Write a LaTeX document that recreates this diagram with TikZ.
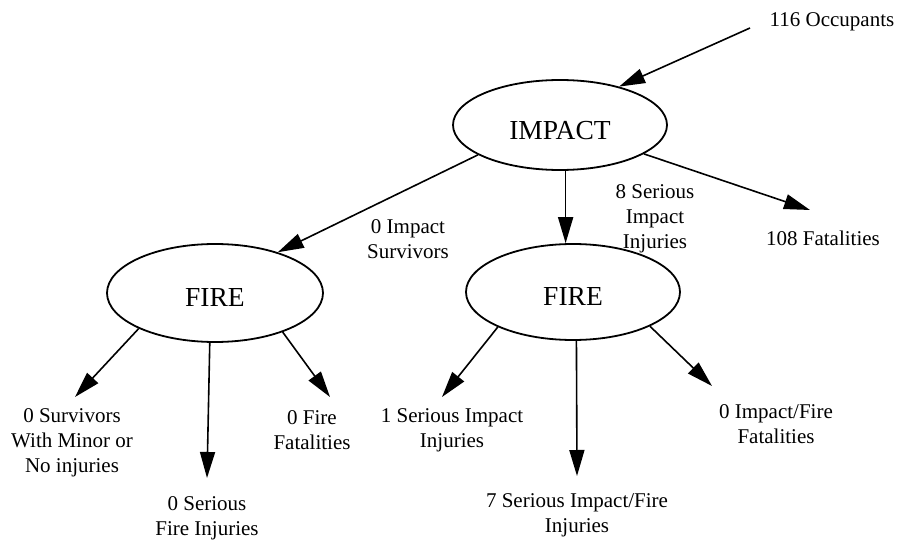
\documentclass[tikz,border=0pt]{standalone}
\usepackage{fontspec}
\setmainfont{Liberation Serif}
\usetikzlibrary{shapes.geometric,arrows.meta}
\newcommand{\lowertext}[2]{\raisebox{-#1}[\height][\depth]{#2}}
\begin{document}
\begin{tikzpicture}[x=1pt,y=-1pt,
  state/.style={ellipse,draw,line width=1.8pt,minimum width=214pt,minimum height=90pt,inner sep=0pt,font=\fontsize{27.5}{30}\selectfont},
  lbl/.style={align=center,inner sep=1pt,font=\fontsize{21}{25}\selectfont},
  arr/.style={line width=1.6pt,-{Triangle[length=26pt,width=15pt]}}]
\fill[white] (0,0) rectangle (904,548);
\useasboundingbox (0,0) rectangle (904,548);
% ellipses
\node[state] (impact) at (560,125) {\lowertext{6pt}{IMPACT}};
\node[state,minimum width=216pt,minimum height=98pt] (fireL) at (215,293) {\lowertext{4pt}{FIRE}};
\node[state,minimum width=214pt,minimum height=96pt] (fireR) at (573,292) {\lowertext{4pt}{FIRE}};
% labels
\node[lbl] (occ) at (832,22) {116 Occupants};
\node[lbl] (surv) at (408,239) {0 Impact\\Survivors};
\node[lbl] (ser8) at (655,219) {8 Serious\\Impact\\Injuries};
\node[lbl] (fat108) at (823,238) {108 Fatalities};
\node[lbl] (minor) at (72,443) {0 Survivors\\With Minor or\\No injuries};
\node[lbl] (firinj) at (207,518) {0 Serious\\Fire Injuries};
\node[lbl] (firfat) at (312,430) {0 Fire\\Fatalities};
\node[lbl] (ser1) at (452,430) {1 Serious Impact\\Injuries};
\node[lbl] (ser7) at (577,515) {7 Serious Impact/Fire\\Injuries};
\node[lbl] (iffat) at (776,424) {0 Impact/Fire\\Fatalities};
% free ends
\coordinate (occT) at (750,28);
\coordinate (t108) at (810,210);
\coordinate (tMinor) at (75,397);
\coordinate (tFirInj) at (207,478);
\coordinate (tFirFat) at (330,397);
\coordinate (tSer1) at (442,397);
\coordinate (tSer7) at (577,476);
\coordinate (tIfFat) at (712,386);
% connectors
\draw[arr] (occT) -- (impact.33.4);
\draw[arr] (impact.200.7) -- (fireL.33.5);
\draw[arr] (impact.-83) -- (impact.-83 |- fireR.99);
\draw[arr] (impact.-19.2) -- (t108);
\draw[arr] (fireL.205) -- (tMinor);
\draw[arr] (fireL.-96) -- (tFirInj);
\draw[arr] (fireL.-30) -- (tFirFat);
\draw[arr] (fireR.205.6) -- (tSer1);
\draw[arr] (fireR.-86) -- (tSer7);
\draw[arr] (fireR.-24.4) -- (tIfFat);
\end{tikzpicture}
\end{document}
